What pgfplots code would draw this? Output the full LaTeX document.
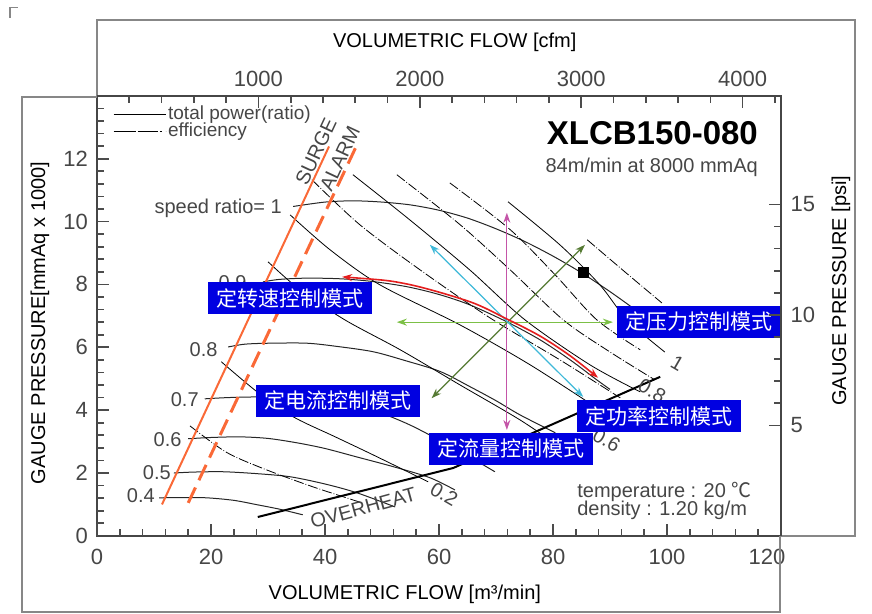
\documentclass[border=0pt]{standalone}
\usepackage{pgfplots}
\pgfplotsset{compat=1.18}
\usepackage{fontspec}
\setmainfont{Liberation Sans}
\newfontfamily\cjk{Noto Sans CJK SC}
\usetikzlibrary{arrows.meta}

% colours
\definecolor{axgray}{RGB}{70,70,70}
\definecolor{framegray}{RGB}{135,135,135}
\definecolor{surge}{RGB}{250,105,55}
\definecolor{boxblue}{RGB}{0,0,225}
\definecolor{amag}{RGB}{196,85,168}
\definecolor{agreen}{RGB}{124,192,70}
\definecolor{aolive}{RGB}{85,122,51}
\definecolor{acyan}{RGB}{62,184,216}
\definecolor{ared}{RGB}{228,30,30}

\pgfplotsset{
  base/.style={
    width=342pt, height=220pt, scale only axis,
    axis line style={axgray, line width=0.7pt},
    tick align=inside,
    major tick length=6pt, minor tick length=3.5pt,
    tick style={black!70, line width=0.8pt},
    tick label style={font=\fontsize{11}{11}\selectfont, text=axgray},
    label style={font=\fontsize{11.5}{11.5}\selectfont, text=axgray},
    /pgf/number format/assume math mode=true,
    /pgf/number format/1000 sep={},
  },
  speed/.style={black!85, line width=0.5pt, smooth},
  pw/.style={black, line width=0.4pt, smooth},
  eff/.style={black, line width=0.4pt, smooth, dash pattern=on 5pt off 1pt on 0.4pt off 1pt},
  arr/.style={line width=0.6pt, {Stealth[length=5pt,width=3.5pt]}-{Stealth[length=5pt,width=3.5pt]}},
}
\tikzset{
  mode/.style={fill=boxblue, text=white, font=\cjk\fontsize{10.5}{10.5}\selectfont,
    minimum width=82pt, minimum height=16pt, inner sep=0pt},
  lbl/.style={font=\fontsize{10}{10}\selectfont, text=axgray, inner sep=0pt},
  tk/.style={black!70, line width=0.8pt},
}

\begin{document}
\begin{tikzpicture}
% main axis: m3/min against mmAq x 1000
\begin{axis}[base,
  xmin=0, xmax=120, ymin=0, ymax=14,
  xtick={0,20,...,120}, ytick={0,2,...,12},
  xticklabels={0,20,40,60,80,100,\hspace*{-14pt}120},
  minor x tick num=4, minor y tick num=4,
  xtick pos=left, ytick pos=left,
  xticklabel style={yshift=-3pt},
  yticklabel style={xshift=-1pt},
  xlabel={VOLUMETRIC FLOW [m³/min]},
  ylabel={GAUGE  PRESSURE[mmAq x 1000]},
  every axis x label/.style={at={(axis description cs:0.45,-0.132)}, anchor=center},
  every axis y label/.style={at={(axis description cs:-0.0833,0.484)}, anchor=center, rotate=90},
  clip=false,
  legend style={at={(axis description cs:0.023,0.977)}, anchor=north west,
    draw=none, fill=none, font=\fontsize{9.5}{9.5}\selectfont, text=axgray,
    inner sep=0pt, row sep=0pt, nodes={inner sep=1pt, text height=5.5pt, text depth=1pt}},
  legend cell align=left,
  legend image code/.code={\draw[#1] (2pt,0pt) -- (22pt,0pt); \path (0pt,0pt) -- (26pt,0pt);},
]
\addlegendimage{black, line width=0.5pt}
\addlegendentry{total power(ratio)}
\addlegendimage{black, line width=0.5pt, dash pattern=on 8pt off 2pt on 1pt off 2pt}
\addlegendentry{efficiency}

% speed ratio curves
\addplot[speed] coordinates {(34.4,10.48) (40,10.62) (45,10.66) (50,10.62) (55,10.53) (60,10.36) (65,10.11) (70,9.77) (75,9.37) (80,8.90) (85,8.37) (90,7.77) (94.4,7.2)};
\addplot[speed] coordinates {(29.1,8.08) (32,8.16) (36.8,8.20) (42.6,8.18) (48,8.10) (54.3,7.93) (60,7.68) (65.4,7.35) (71.9,6.81) (77.7,6.24) (83,5.60) (87.7,4.96) (90,4.66)};
\addplot[speed] coordinates {(23.0,6.01) (26,6.10) (30.4,6.13) (36.8,6.13) (42,6.03) (48.4,5.86) (54,5.58) (60.2,5.23) (65.4,4.75) (70,4.30) (74.2,3.85) (80.4,3.28)};
\addplot[speed] coordinates {(18.9,4.36) (23,4.40) (28.1,4.42) (33,4.40) (39.1,4.33) (45,4.15) (50.2,3.88) (55,3.52) (60,3.05) (65,2.55) (69.8,2.04)};
\addplot[speed] coordinates {(16.0,3.09) (20,3.13) (25.1,3.15) (30,3.10) (35.1,2.96) (40,2.78) (45.6,2.51) (52,2.20) (58.4,1.85) (62.8,1.46)};
\addplot[speed] coordinates {(13.5,2.00) (17,2.03) (22.1,2.04) (28,1.98) (33.9,1.88) (40,1.65) (45.6,1.37) (52.3,0.92)};
\addplot[speed] coordinates {(10.9,1.21) (15,1.22) (19.3,1.21) (24,1.13) (28.1,0.99) (32,0.85) (36.1,0.67)};

% power and efficiency lines
\addplot[eff] coordinates {(16.3,3.50) (22.6,2.67) (28.9,2.16) (37.4,1.59) (46.5,1.05)};
\addplot[pw]  coordinates {(21.8,5.54) (28.1,4.58) (34.4,3.79) (41.8,3.15) (48.4,2.58) (58.1,1.72)};
\addplot[pw]  coordinates {(30.0,8.72) (35.6,7.83) (43.5,6.87) (53.2,5.92) (63.7,4.80) (74.2,3.69) (81.2,2.83)};
\addplot[pw]  coordinates {(33.9,10.21) (40.9,9.10) (49.6,7.99) (63.7,6.71) (76.0,5.44) (88.2,4.01)};
\addplot[eff] coordinates {(37.7,11.33) (46.1,9.90) (56.7,8.46) (68.9,6.94) (81.2,5.60) (91.8,4.39)};
\addplot[pw]  coordinates {(44.9,11.49) (54.9,10.05) (65.4,8.46) (75.1,6.87) (86.5,5.44) (95.3,4.58)};
\addplot[eff] coordinates {(52.6,11.49) (63.7,9.90) (72.5,8.46) (81.8,6.87) (90.0,5.85) (97.9,4.96)};
\addplot[eff] coordinates {(61.9,11.23) (72.5,9.74) (80.4,8.30) (87.7,6.87) (95.3,5.92)};
\addplot[pw]  coordinates {(72.1,10.63) (81.2,9.26) (88.2,7.99) (93.0,6.87) (99.6,5.85)};
\addplot[eff] coordinates {(86.0,9.42) (92.6,8.40) (99.1,7.41)};

% overheat, surge and alarm limits
\addplot[black, line width=1pt] coordinates {(28.2,0.60) (62.5,2.16) (98.8,5.06)};
\addplot[surge, line width=1pt] coordinates {(11.4,1.0) (40.7,12.39)};
\addplot[surge, line width=1.5pt, dash pattern=on 8.5pt off 4pt] coordinates {(16.0,1.05) (45.6,12.44)};

% control mode arrows
\addplot[arr, amag] coordinates {(71.9,3.37) (71.9,10.28)};
\addplot[arr, agreen] coordinates {(52.6,6.80) (90.5,6.80)};
\addplot[arr, aolive] coordinates {(58.7,4.38) (85.6,9.26)};
\addplot[arr, acyan] coordinates {(58.4,9.26) (85.3,4.42)};
\addplot[arr, ared, line width=0.8pt, smooth] coordinates {(43.0,8.24) (54.2,8.02) (65.4,7.45) (71.9,6.90) (77.7,6.36) (83.0,5.73) (87.9,5.03)};

\addplot[only marks, mark=square*, mark size=2.5pt, black] coordinates {(85.4,8.37)};

% labels
\node[lbl, anchor=east] at (axis cs:32.5,10.43) {speed ratio= 1};
\node[lbl, anchor=east] at (axis cs:26.3,8.05) {0.9};
\node[lbl, anchor=east] at (axis cs:21.2,5.92) {0.8};
\node[lbl, anchor=east] at (axis cs:17.9,4.33) {0.7};
\node[lbl, anchor=east] at (axis cs:14.9,3.05) {0.6};
\node[lbl, anchor=east] at (axis cs:13.0,2.02) {0.5};
\node[lbl, anchor=east] at (axis cs:10.2,1.28) {0.4};

\node[lbl, rotate=-30] at (axis cs:60.9,1.33) {0.2};
\node[lbl, rotate=-30] at (axis cs:89.4,3.05) {0.6};
\node[lbl, rotate=-30] at (axis cs:97.4,4.62) {0.8};
\node[lbl, rotate=-30] at (axis cs:101.8,5.50) {1};

\node[lbl, rotate=65] at (axis cs:38.4,12.22) {SURGE};
\node[lbl, rotate=65] at (axis cs:42.6,12.01) {ALARM};
\node[lbl, rotate=15.4] at (axis cs:46.7,0.89) {OVERHEAT};

\node[anchor=east, inner sep=0pt, font=\fontsize{16.5}{16.5}\selectfont\bfseries] at (axis cs:116.0,12.82) {XLCB150-080};
\node[lbl, anchor=east] at (axis cs:116.0,11.74) {84m/min at 8000 mmAq};
\node[lbl, anchor=west] at (axis cs:84.2,1.40) {temperature : 20 {\cjk ℃}};
\node[lbl, anchor=west] at (axis cs:84.2,0.80) {density : 1.20 kg/m};

% mode boxes
\node[mode] at (axis cs:33.9,7.56) {定转速控制模式};
\node[mode] at (axis cs:105.6,6.82) {定压力控制模式};
\node[mode] at (axis cs:42.2,4.30) {定电流控制模式};
\node[mode] at (axis cs:98.6,3.80) {定功率控制模式};
\node[mode] at (axis cs:72.6,2.77) {定流量控制模式};

% tick marks of the bottom, left and top (cfm) scales
\pgfplotsinvokeforeach{0,...,30}{\draw[tk] (axis cs:{#1*4},0) -- ++(0pt,3.5pt);}
\pgfplotsinvokeforeach{0,...,6}{\draw[tk] (axis cs:{#1*20},0) -- ++(0pt,6pt);}
\pgfplotsinvokeforeach{1,...,34}{\draw[tk] (axis cs:0,{#1*0.4}) -- ++(3.5pt,0pt);}
\pgfplotsinvokeforeach{1,...,6}{\draw[tk] (axis cs:0,{#1*2}) -- ++(6pt,0pt);}
\pgfplotsinvokeforeach{1,...,21}{\draw[tk] (axis cs:{#1*5.6633},14) -- ++(0pt,-3.5pt);}
\pgfplotsinvokeforeach{1,...,4}{\draw[tk] (axis cs:{#1*28.3166},14) -- ++(0pt,-6pt);}

% the two offset frames of the scan
\draw[framegray, line width=0.8pt] (axis cs:0,13.97) -- (axis cs:0,16.42) -- (axis cs:133.0,16.42) -- (axis cs:133.0,0) -- (axis cs:119.8,0);
\draw[framegray, line width=0.8pt] (axis cs:0,13.97) -- (axis cs:-13.16,13.97) -- (axis cs:-13.16,-2.42) -- (axis cs:119.8,-2.42) -- (axis cs:119.8,0);
\draw[framegray, line width=0.6pt] (axis cs:-15.26,16.48) -- (axis cs:-15.26,16.80) -- (axis cs:-13.86,16.80);
\path (axis cs:-17.02,-2.48) rectangle (axis cs:135.96,17.05);
\end{axis}

% top scale in cfm
\begin{axis}[base,
  xmin=0, xmax=4237.8, ymin=0, ymax=14,
  axis x line*=top, axis y line=none,
  xtick={1000,2000,3000,4000}, minor x tick num=4,
  xticklabel style={yshift=1pt},
  xlabel={VOLUMETRIC FLOW [cfm]},
  every axis x label/.style={at={(axis description cs:0.523,1.1227)}, anchor=center},
]
\end{axis}

% right scale in psi
\begin{axis}[base,
  xmin=0, xmax=120, ymin=0, ymax=19.913,
  axis y line*=right, axis x line=none,
  ytick={5,10,15}, minor y tick num=4,
  yticklabel style={xshift=1.3pt},
  ylabel={GAUGE PRESSURE [psi]},
  every axis y label/.style={at={(axis description cs:1.0877,0.557)}, anchor=center, rotate=90},
]
\end{axis}
\end{tikzpicture}
\end{document}
